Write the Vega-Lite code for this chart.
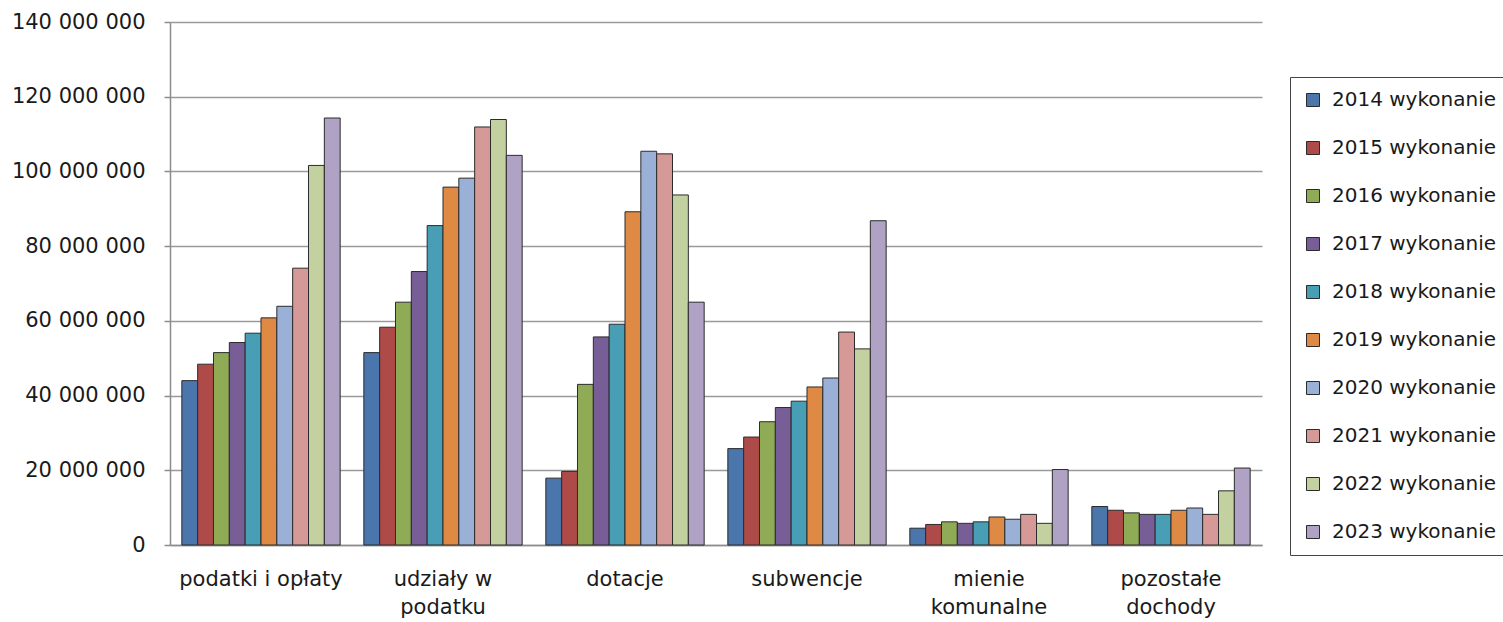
{
  "$schema": "https://vega.github.io/schema/vega-lite/v6.json",
  "autosize": "none",
  "width": 1092,
  "height": 523,
  "padding": {"left": 170, "top": 22, "right": 241, "bottom": 77},
  "config": {
    "view": {"stroke": null},
    "font": "DejaVu Sans",
    "locale": {"number": {"decimal": ",", "thousands": " ", "grouping": [3], "currency": ["", " zł"]}},
    "axis": {"labelFont": "DejaVu Sans", "labelColor": "#1a1a1a", "labelFontSize": 21}
  },
  "data": {
    "values": [
      {"category": "podatki i opłaty", "year": "2014 wykonanie", "value": 44000000},
      {"category": "podatki i opłaty", "year": "2015 wykonanie", "value": 48400000},
      {"category": "podatki i opłaty", "year": "2016 wykonanie", "value": 51500000},
      {"category": "podatki i opłaty", "year": "2017 wykonanie", "value": 54200000},
      {"category": "podatki i opłaty", "year": "2018 wykonanie", "value": 56700000},
      {"category": "podatki i opłaty", "year": "2019 wykonanie", "value": 60800000},
      {"category": "podatki i opłaty", "year": "2020 wykonanie", "value": 63900000},
      {"category": "podatki i opłaty", "year": "2021 wykonanie", "value": 74100000},
      {"category": "podatki i opłaty", "year": "2022 wykonanie", "value": 101600000},
      {"category": "podatki i opłaty", "year": "2023 wykonanie", "value": 114300000},
      {"category": "udziały w podatku", "year": "2014 wykonanie", "value": 51500000},
      {"category": "udziały w podatku", "year": "2015 wykonanie", "value": 58300000},
      {"category": "udziały w podatku", "year": "2016 wykonanie", "value": 65000000},
      {"category": "udziały w podatku", "year": "2017 wykonanie", "value": 73200000},
      {"category": "udziały w podatku", "year": "2018 wykonanie", "value": 85500000},
      {"category": "udziały w podatku", "year": "2019 wykonanie", "value": 95800000},
      {"category": "udziały w podatku", "year": "2020 wykonanie", "value": 98200000},
      {"category": "udziały w podatku", "year": "2021 wykonanie", "value": 111900000},
      {"category": "udziały w podatku", "year": "2022 wykonanie", "value": 113900000},
      {"category": "udziały w podatku", "year": "2023 wykonanie", "value": 104300000},
      {"category": "dotacje", "year": "2014 wykonanie", "value": 17900000},
      {"category": "dotacje", "year": "2015 wykonanie", "value": 19700000},
      {"category": "dotacje", "year": "2016 wykonanie", "value": 43000000},
      {"category": "dotacje", "year": "2017 wykonanie", "value": 55700000},
      {"category": "dotacje", "year": "2018 wykonanie", "value": 59100000},
      {"category": "dotacje", "year": "2019 wykonanie", "value": 89200000},
      {"category": "dotacje", "year": "2020 wykonanie", "value": 105400000},
      {"category": "dotacje", "year": "2021 wykonanie", "value": 104700000},
      {"category": "dotacje", "year": "2022 wykonanie", "value": 93700000},
      {"category": "dotacje", "year": "2023 wykonanie", "value": 65000000},
      {"category": "subwencje", "year": "2014 wykonanie", "value": 25800000},
      {"category": "subwencje", "year": "2015 wykonanie", "value": 28900000},
      {"category": "subwencje", "year": "2016 wykonanie", "value": 33000000},
      {"category": "subwencje", "year": "2017 wykonanie", "value": 36800000},
      {"category": "subwencje", "year": "2018 wykonanie", "value": 38500000},
      {"category": "subwencje", "year": "2019 wykonanie", "value": 42300000},
      {"category": "subwencje", "year": "2020 wykonanie", "value": 44700000},
      {"category": "subwencje", "year": "2021 wykonanie", "value": 57000000},
      {"category": "subwencje", "year": "2022 wykonanie", "value": 52500000},
      {"category": "subwencje", "year": "2023 wykonanie", "value": 86800000},
      {"category": "mienie komunalne", "year": "2014 wykonanie", "value": 4500000},
      {"category": "mienie komunalne", "year": "2015 wykonanie", "value": 5500000},
      {"category": "mienie komunalne", "year": "2016 wykonanie", "value": 6200000},
      {"category": "mienie komunalne", "year": "2017 wykonanie", "value": 5800000},
      {"category": "mienie komunalne", "year": "2018 wykonanie", "value": 6200000},
      {"category": "mienie komunalne", "year": "2019 wykonanie", "value": 7500000},
      {"category": "mienie komunalne", "year": "2020 wykonanie", "value": 6900000},
      {"category": "mienie komunalne", "year": "2021 wykonanie", "value": 8200000},
      {"category": "mienie komunalne", "year": "2022 wykonanie", "value": 5800000},
      {"category": "mienie komunalne", "year": "2023 wykonanie", "value": 20200000},
      {"category": "pozostałe dochody", "year": "2014 wykonanie", "value": 10300000},
      {"category": "pozostałe dochody", "year": "2015 wykonanie", "value": 9300000},
      {"category": "pozostałe dochody", "year": "2016 wykonanie", "value": 8600000},
      {"category": "pozostałe dochody", "year": "2017 wykonanie", "value": 8200000},
      {"category": "pozostałe dochody", "year": "2018 wykonanie", "value": 8200000},
      {"category": "pozostałe dochody", "year": "2019 wykonanie", "value": 9300000},
      {"category": "pozostałe dochody", "year": "2020 wykonanie", "value": 9900000},
      {"category": "pozostałe dochody", "year": "2021 wykonanie", "value": 8200000},
      {"category": "pozostałe dochody", "year": "2022 wykonanie", "value": 14500000},
      {"category": "pozostałe dochody", "year": "2023 wykonanie", "value": 20600000}
    ]
  },
  "mark": {"type": "bar", "stroke": "#2b2b2b", "strokeWidth": 1},
  "encoding": {
    "x": {
      "field": "category",
      "type": "nominal",
      "sort": ["podatki i opłaty", "udziały w podatku", "dotacje", "subwencje", "mienie komunalne", "pozostałe dochody"],
      "scale": {"paddingInner": 0.13, "paddingOuter": 0.065},
      "axis": {
        "title": null,
        "labelAngle": 0,
        "ticks": false,
        "tickSize": 0,
        "labelPadding": 23,
        "labelBaseline": "top",
        "labelLineHeight": 28,
        "domainColor": "#8c8c8c",
        "domainWidth": 1.5,
        "labelExpr": "datum.label == 'udziały w podatku' ? ['udziały w', 'podatku'] : datum.label == 'mienie komunalne' ? ['mienie', 'komunalne'] : datum.label == 'pozostałe dochody' ? ['pozostałe', 'dochody'] : datum.label"
      }
    },
    "xOffset": {
      "field": "year",
      "type": "nominal",
      "scale": {"paddingInner": 0, "paddingOuter": 0}
    },
    "y": {
      "field": "value",
      "type": "quantitative",
      "scale": {"domain": [0, 140000000], "nice": false},
      "axis": {
        "title": null,
        "values": [0, 20000000, 40000000, 60000000, 80000000, 100000000, 120000000, 140000000],
        "format": ",d",
        "grid": true,
        "gridColor": "#9a9a9a",
        "gridWidth": 1.5,
        "domainColor": "#8c8c8c",
        "domainWidth": 1.5,
        "tickColor": "#8c8c8c",
        "tickWidth": 1.5,
        "tickSize": 6,
        "labelPadding": 19
      }
    },
    "color": {
      "field": "year",
      "type": "nominal",
      "scale": {
        "domain": ["2014 wykonanie", "2015 wykonanie", "2016 wykonanie", "2017 wykonanie", "2018 wykonanie", "2019 wykonanie", "2020 wykonanie", "2021 wykonanie", "2022 wykonanie", "2023 wykonanie"],
        "range": ["#4a76ab", "#ae4b49", "#8fab55", "#775e96", "#479eb5", "#de8a45", "#9bb0d6", "#d59998", "#c2d19f", "#b0a2c5"]
      },
      "legend": {
        "title": null,
        "orient": "none",
        "legendX": 1120,
        "legendY": 55,
        "strokeColor": "#444",
        "padding": 13,
        "symbolType": "square",
        "symbolSize": 169,
        "symbolStrokeColor": "#2b2b2b",
        "symbolStrokeWidth": 1,
        "symbolOpacity": 1,
        "labelFont": "DejaVu Sans",
        "labelFontSize": 20,
        "labelColor": "#1a1a1a",
        "labelOffset": 9,
        "labelLimit": 400,
        "rowPadding": 28
      }
    }
  }
}
